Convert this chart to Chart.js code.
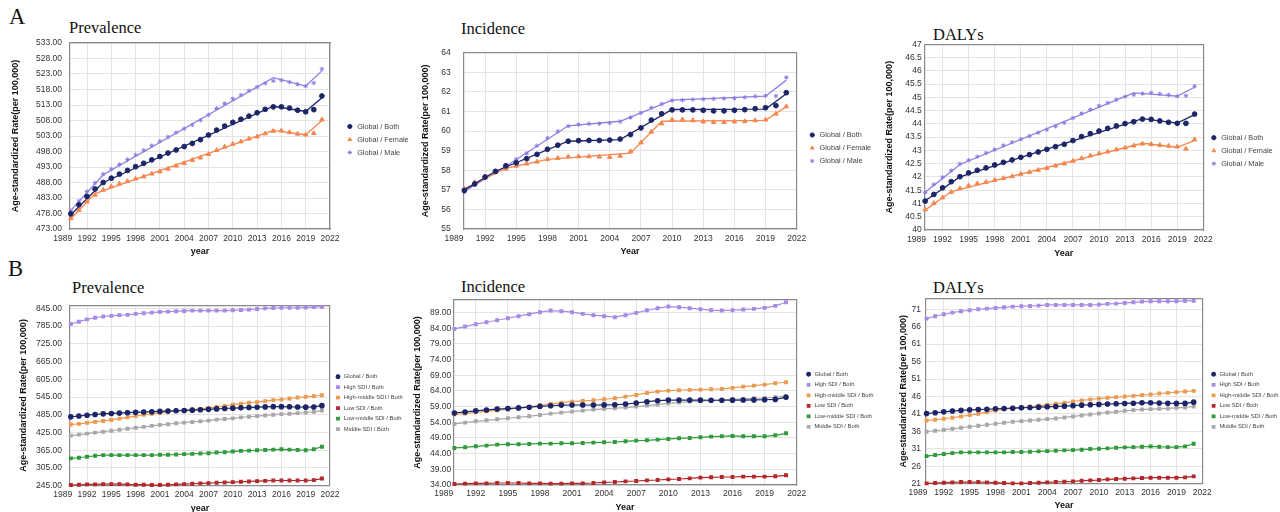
<!DOCTYPE html>
<html>
<head>
<meta charset="utf-8">
<script src="https://cdn.jsdelivr.net/npm/chart.js@4.4.1/dist/chart.umd.min.js"></script>
<style>
  body { margin: 0; background: #fff; }
  #fig { position: relative; width: 1280px; height: 512px; overflow: hidden; background: #fff; }
  #fig canvas { position: absolute; }
  .lbl { position: absolute; font-family: "Liberation Serif", "Times New Roman", serif; color: #111; line-height: 1; white-space: nowrap; }
  .letter { font-size: 22.6px; }
  .ttl { font-size: 16.5px; }
</style>
</head>
<body>
<div id="fig">
  <div class="lbl letter" style="left:9px;top:6px">A</div>
  <div class="lbl letter" style="left:8px;top:258px">B</div>
  <div class="lbl ttl" style="left:69px;top:19.5px">Prevalence</div>
  <div class="lbl ttl" style="left:461px;top:21px">Incidence</div>
  <div class="lbl ttl" style="left:933px;top:27px">DALYs</div>
  <div class="lbl ttl" style="left:72px;top:279.5px">Prevalence</div>
  <div class="lbl ttl" style="left:461px;top:279px">Incidence</div>
  <div class="lbl ttl" style="left:933px;top:279.5px">DALYs</div>
</div>
<script>
const years = [1990, 1991, 1992, 1993, 1994, 1995, 1996, 1997, 1998, 1999, 2000, 2001, 2002, 2003, 2004, 2005,
  2006, 2007, 2008, 2009, 2010, 2011, 2012, 2013, 2014, 2015, 2016, 2017, 2018, 2019, 2020, 2021];
const xTicks = [1989, 1992, 1995, 1998, 2001, 2004, 2007, 2010, 2013, 2016, 2019, 2022];

// A - global, by sex (observed points + joinpoint fit)
const prevBoth = [477.9, 480.8, 483.5, 485.9, 488.0, 489.4, 490.7, 491.9, 493.1, 494.2, 495.3, 496.4, 497.5, 498.5, 499.6, 500.6,
  501.8, 503.3, 504.9, 506.2, 507.4, 508.4, 509.4, 510.5, 511.6, 512.4, 512.4, 512.0, 511.3, 510.8, 511.5, 515.9];
const prevFemale = [476.4, 479.1, 481.8, 484.0, 485.6, 486.7, 487.6, 488.4, 489.2, 489.9, 490.8, 491.5, 492.4, 493.4, 494.2, 495.2,
  496.0, 497.1, 498.4, 499.5, 500.4, 501.2, 502.1, 502.8, 503.8, 504.6, 504.7, 504.2, 503.7, 503.4, 503.9, 508.3];
const prevMale = [478.9, 482.0, 485.1, 487.9, 490.7, 492.3, 493.8, 495.4, 496.9, 498.4, 499.9, 501.3, 502.7, 504.1, 505.4, 506.6,
  508.1, 509.8, 511.9, 513.5, 515.0, 516.2, 517.6, 518.8, 520.0, 520.8, 521.0, 520.4, 519.7, 519.1, 520.1, 524.6];
const prevBothFit = [[1990, 477.6], [1994, 488.0], [2015, 512.6], [2019, 510.9], [2021, 515.3]];
const prevFemaleFit = [[1990, 476.3], [1993, 484.4], [2015, 504.8], [2019, 503.4], [2021, 508.0]];
const prevMaleFit = [[1990, 479.0], [1994, 490.5], [2015, 521.8], [2019, 519.1], [2021, 524.0]];

const incBoth = [56.97, 57.30, 57.65, 57.94, 58.22, 58.38, 58.59, 58.81, 59.07, 59.28, 59.48, 59.51, 59.52, 59.52, 59.54, 59.59,
  59.82, 60.16, 60.56, 60.88, 61.08, 61.08, 61.08, 61.06, 61.03, 61.03, 61.06, 61.09, 61.14, 61.19, 61.30, 61.96];
const incFemale = [57.05, 57.38, 57.67, 57.89, 58.07, 58.22, 58.33, 58.43, 58.56, 58.62, 58.69, 58.70, 58.70, 58.69, 58.67, 58.73,
  58.96, 59.41, 59.96, 60.38, 60.58, 60.59, 60.54, 60.48, 60.45, 60.45, 60.48, 60.49, 60.54, 60.58, 60.88, 61.25];
const incMale = [56.89, 57.26, 57.70, 57.97, 58.26, 58.56, 58.86, 59.25, 59.64, 59.99, 60.25, 60.33, 60.37, 60.38, 60.41, 60.48,
  60.69, 60.93, 61.19, 61.38, 61.56, 61.58, 61.61, 61.63, 61.64, 61.66, 61.67, 61.72, 61.77, 61.80, 61.79, 62.74];
const incBothFit = [[1990, 57.0], [1993, 57.95], [2000, 59.48], [2005, 59.56], [2010, 61.1], [2019, 61.12], [2021, 61.9]];
const incFemaleFit = [[1990, 57.05], [1994, 58.1], [1998, 58.55], [2006, 58.87], [2009, 60.5], [2019, 60.55], [2021, 61.25]];
const incMaleFit = [[1990, 56.92], [1994, 58.2], [2000, 60.27], [2005, 60.5], [2010, 61.58], [2019, 61.78], [2021, 62.6]];

const dalyBoth = [41.09, 41.34, 41.59, 41.82, 42.01, 42.15, 42.25, 42.34, 42.45, 42.55, 42.64, 42.74, 42.84, 42.94, 43.04, 43.14,
  43.23, 43.37, 43.52, 43.63, 43.73, 43.83, 43.92, 44.01, 44.08, 44.18, 44.17, 44.11, 44.06, 44.02, 44.02, 44.37];
const dalyFemale = [40.77, 41.01, 41.22, 41.43, 41.57, 41.67, 41.75, 41.81, 41.88, 41.95, 42.02, 42.11, 42.18, 42.26, 42.33, 42.42,
  42.50, 42.60, 42.70, 42.80, 42.88, 42.95, 43.03, 43.10, 43.18, 43.25, 43.23, 43.20, 43.17, 43.14, 43.06, 43.41];
const dalyMale = [41.41, 41.72, 41.99, 42.24, 42.49, 42.63, 42.76, 42.90, 43.03, 43.19, 43.31, 43.42, 43.54, 43.67, 43.78, 43.91,
  44.04, 44.22, 44.39, 44.54, 44.68, 44.79, 44.91, 45.03, 45.10, 45.14, 45.17, 45.13, 45.09, 45.04, 45.06, 45.42];
const dalyBothFit = [[1990, 41.1], [1994, 42.0], [2015, 44.2], [2019, 44.03], [2021, 44.35]];
const dalyFemaleFit = [[1990, 40.75], [1993, 41.45], [2015, 43.27], [2019, 43.12], [2021, 43.38]];
const dalyMaleFit = [[1990, 41.42], [1994, 42.47], [2014, 45.17], [2019, 45.05], [2021, 45.38]];

// B - by SDI quintile (global series reused from A)
const prevHigh = [792.1, 799.9, 807.6, 813.1, 817.5, 819.7, 821.9, 823.0, 826.3, 828.5, 830.7, 832.9, 834.0, 835.1, 836.2, 837.3,
  837.3, 837.3, 837.3, 837.3, 838.4, 839.5, 840.6, 842.8, 845.0, 846.0, 847.0, 847.0, 847.0, 848.0, 849.0, 850.0];
const prevHighMid = [452.0, 454.2, 457.4, 460.8, 464.1, 467.4, 471.8, 476.2, 480.6, 485.0, 488.3, 491.6, 494.9, 498.2, 500.4, 502.6,
  504.8, 508.1, 511.4, 514.7, 519.1, 522.4, 525.7, 527.9, 531.2, 534.5, 536.7, 540.0, 543.3, 545.5, 547.7, 551.0];
const prevLow = [247.2, 248.3, 249.4, 249.4, 250.5, 250.5, 250.5, 249.4, 248.3, 248.3, 247.2, 247.2, 248.3, 249.4, 250.5, 251.6,
  252.7, 253.8, 254.9, 256.0, 257.1, 258.2, 259.3, 260.4, 261.5, 262.6, 262.6, 262.6, 262.6, 262.6, 263.7, 269.2];
const prevLowMid = [337.4, 339.6, 342.9, 346.2, 348.4, 348.4, 348.4, 348.4, 348.4, 348.4, 348.4, 349.5, 349.5, 350.6, 351.7, 352.8,
  353.9, 355.0, 357.2, 358.3, 360.5, 362.7, 363.8, 364.9, 366.0, 367.1, 368.2, 367.1, 366.0, 364.9, 368.2, 377.0];
const prevMid = [414.5, 417.8, 421.1, 424.4, 427.7, 431.0, 434.3, 437.6, 440.9, 444.2, 447.5, 450.8, 453.0, 456.3, 458.5, 460.7,
  462.9, 465.1, 468.4, 470.6, 472.8, 476.1, 478.3, 480.5, 482.7, 484.9, 487.1, 488.2, 490.4, 492.6, 494.8, 499.2];

const incHigh = [83.79, 84.53, 85.28, 85.91, 86.55, 87.19, 87.83, 88.47, 89.11, 89.64, 89.43, 89.11, 88.57, 88.15, 87.83, 87.51,
  88.15, 88.89, 89.74, 90.38, 90.91, 90.70, 90.38, 90.06, 89.74, 89.64, 89.74, 89.96, 90.17, 90.49, 91.13, 92.30];
const incHighMid = [56.55, 56.77, 57.19, 57.51, 57.83, 58.15, 58.47, 58.90, 59.43, 59.85, 60.28, 60.60, 60.81, 61.02, 61.34, 61.66,
  62.19, 62.72, 63.36, 63.79, 64.11, 64.21, 64.32, 64.43, 64.53, 64.64, 64.96, 65.38, 65.70, 66.02, 66.45, 66.77];
const incLow = [34.32, 34.43, 34.53, 34.53, 34.64, 34.64, 34.64, 34.53, 34.53, 34.43, 34.43, 34.53, 34.53, 34.64, 34.85, 34.96,
  35.17, 35.28, 35.49, 35.60, 35.81, 35.92, 36.13, 36.34, 36.45, 36.55, 36.55, 36.66, 36.66, 36.66, 36.77, 37.09];
const incLowMid = [45.81, 46.02, 46.34, 46.55, 46.87, 46.98, 46.98, 47.09, 47.19, 47.19, 47.30, 47.30, 47.40, 47.51, 47.62, 47.72,
  47.94, 48.15, 48.26, 48.47, 48.68, 48.89, 49.00, 49.21, 49.43, 49.53, 49.64, 49.53, 49.53, 49.53, 49.85, 50.49];
const incMid = [53.47, 53.89, 54.32, 54.64, 54.96, 55.28, 55.60, 55.91, 56.34, 56.77, 57.09, 57.40, 57.72, 58.04, 58.26, 58.47,
  58.68, 59.00, 59.32, 59.64, 60.06, 60.28, 60.60, 60.81, 60.91, 61.13, 61.34, 61.45, 61.66, 61.77, 61.98, 62.40];

const dalyHigh = [68.33, 69.00, 69.57, 70.05, 70.43, 70.71, 71.00, 71.19, 71.38, 71.57, 71.76, 71.86, 71.95, 72.05, 72.24, 72.24,
  72.24, 72.24, 72.24, 72.24, 72.34, 72.53, 72.62, 72.81, 73.00, 73.19, 73.29, 73.29, 73.29, 73.29, 73.39, 73.39];
const dalyHighMid = [39.13, 39.32, 39.61, 39.90, 40.28, 40.66, 41.04, 41.52, 42.00, 42.38, 42.76, 42.85, 43.04, 43.33, 43.61, 43.90,
  44.19, 44.57, 44.86, 45.14, 45.43, 45.62, 45.81, 46.00, 46.19, 46.38, 46.57, 46.86, 47.05, 47.24, 47.43, 47.62];
const dalyLow = [21.10, 21.19, 21.29, 21.38, 21.48, 21.48, 21.48, 21.38, 21.29, 21.19, 21.10, 21.10, 21.19, 21.29, 21.38, 21.48,
  21.57, 21.67, 21.86, 21.95, 22.05, 22.24, 22.33, 22.43, 22.53, 22.62, 22.72, 22.72, 22.72, 22.72, 22.81, 23.10];
const dalyLowMid = [28.92, 29.21, 29.50, 29.78, 29.97, 29.97, 29.97, 29.97, 29.97, 29.97, 30.07, 30.07, 30.16, 30.26, 30.35, 30.45,
  30.54, 30.64, 30.74, 30.93, 31.02, 31.12, 31.31, 31.40, 31.50, 31.59, 31.69, 31.59, 31.50, 31.50, 31.69, 32.45];
const dalyMid = [35.89, 36.17, 36.46, 36.74, 37.03, 37.32, 37.60, 37.89, 38.18, 38.46, 38.75, 38.94, 39.13, 39.32, 39.51, 39.70,
  39.99, 40.28, 40.56, 40.85, 41.13, 41.42, 41.61, 41.90, 42.09, 42.28, 42.38, 42.47, 42.57, 42.76, 42.85, 43.14];

// y tick values
const prevTicksA = [473, 478, 483, 488, 493, 498, 503, 508, 513, 518, 523, 528, 533];
const incTicksA = [55, 56, 57, 58, 59, 60, 61, 62, 63, 64];
const dalyTicksA = [40, 40.5, 41, 41.5, 42, 42.5, 43, 43.5, 44, 44.5, 45, 45.5, 46, 46.5, 47];
const prevTicksB = [245, 305, 365, 425, 485, 545, 605, 665, 725, 785, 845];
const incTicksB = [34, 39, 44, 49, 54, 59, 64, 69, 74, 79, 84, 89];
const dalyTicksB = [21, 26, 31, 36, 41, 46, 51, 56, 61, 66, 71];

const navy = '#1c2568';
const orange = '#f4874f';
const lavender = '#8a7ee2';
const sdiHigh = '#a68be4';
const sdiHighMid = '#eb9a4f';
const sdiLow = '#b3272b';
const sdiLowMid = '#2f9b3c';
const sdiMid = '#a8a8a8';

const sans = '"Liberation Sans", Arial, sans-serif';
const tickFont = { family: sans, size: 8.5 };
const axisTitleFont = { family: sans, size: 9, weight: 'bold' };
const frame = '#8a8a8a';
const gridColor = '#e4e4e4';
const X_MIN = 1989.9, X_MAX = 2022;
const yTitle = 'Age-standardized Rate(per 100,000)';

const fig = document.getElementById('fig');
const meas = document.createElement('canvas').getContext('2d');

function pts(arr) { return years.map((yr, i) => ({ x: yr, y: arr[i] })); }
function pairs(arr) { return arr.map(p => ({ x: p[0], y: p[1] })); }

function sexSeries(both, female, male, bothFit, femaleFit, maleFit) {
  const marks = [
    { label: 'Global / Both', data: pts(both), color: navy, style: 'circle', r: 2.4 },
    { label: 'Global / Female', data: pts(female), color: orange, style: 'triangle', r: 2.6 },
    { label: 'Global / Male', data: pts(male), color: lavender, style: 'star', r: 2.2 }
  ].map(s => ({
    label: s.label, data: s.data, showLine: false, clip: false,
    pointStyle: s.style, pointRadius: s.r, borderWidth: 1,
    backgroundColor: s.color, borderColor: s.color
  }));
  const fits = [[bothFit, navy], [femaleFit, orange], [maleFit, lavender]].map(f => ({
    label: '', fit: true, data: pairs(f[0]), borderColor: f[1], borderWidth: 1.3,
    pointRadius: 0, tension: 0, clip: false
  }));
  return marks.concat(fits);
}

function sdiSeries(globalBoth, high, highMid, low, lowMid, mid) {
  return [
    ['Global / Both', globalBoth, navy, 'circle', 2.2],
    ['High SDI / Both', high, sdiHigh, 'rect', 1.9],
    ['High-middle SDI / Both', highMid, sdiHighMid, 'rect', 1.9],
    ['Low SDI / Both', low, sdiLow, 'rect', 1.9],
    ['Low-middle SDI / Both', lowMid, sdiLowMid, 'rect', 1.9],
    ['Middle SDI / Both', mid, sdiMid, 'rect', 1.9]
  ].map(s => ({
    label: s[0], data: pts(s[1]), borderColor: s[2], backgroundColor: s[2],
    pointStyle: s[3], pointRadius: s[4], borderWidth: 1.2, tension: 0, clip: false
  }));
}

function drawPanel(p) {
  const lh = axisTitleFont.size * 1.2;
  const fs = p.legendSize, lp = p.legendPad;
  const labels = p.datasets.filter(d => !d.fit).map(d => d.label);

  // legend spans from legTop down to the canvas content bottom; it is centred in that band
  const legBottom = p.xTitleY + lh / 2;
  const legTop = 2 * (p.legendY - fs / 2) - lp - legBottom + labels.length * (fs + lp);
  const cLeft = Math.floor(p.yTitleX - lh / 2 - 4);
  const padL = p.yTitleX - lh / 2 - cLeft;
  const cTop = Math.floor(Math.min(legTop, p.area.t - 8));
  const padT = legTop - cTop;
  const topGap = p.area.t - legTop;
  const xAxisH = legBottom - p.area.b;
  const cH = Math.ceil(legBottom + 2) - cTop;
  const padB = cTop + cH - legBottom;
  const yAxisW = p.area.l - cLeft - padL;

  meas.font = fs + 'px ' + sans;
  const textW = Math.max(...labels.map(t => meas.measureText(t).width));
  const legendW = lp + fs * 1.5 + textW + 10;
  const cW = Math.ceil(p.area.r + p.gap + legendW + 2) - cLeft;
  const padR = cLeft + cW - (p.area.r + p.gap + legendW);

  const cv = document.createElement('canvas');
  cv.width = cW; cv.height = cH;
  cv.style.left = cLeft + 'px'; cv.style.top = cTop + 'px';
  fig.appendChild(cv);

  new Chart(cv, {
    type: 'line',
    data: { datasets: p.datasets },
    options: {
      responsive: false,
      animation: false,
      devicePixelRatio: 1,
      layout: { padding: { left: padL, right: padR, top: padT, bottom: padB } },
      plugins: {
        tooltip: { enabled: false },
        legend: {
          position: 'right', align: 'center', maxWidth: 400,
          labels: {
            usePointStyle: true, boxHeight: p.legendBox, padding: lp, color: '#444',
            font: { family: sans, size: fs },
            filter: (item, data) => !data.datasets[item.datasetIndex].fit
          }
        }
      },
      scales: {
        x: {
          type: 'linear', min: X_MIN, max: X_MAX,
          afterBuildTicks: s => { s.ticks = xTicks.map(v => ({ value: v })); },
          afterFit: s => { s.height = xAxisH; },
          ticks: { autoSkip: false, maxRotation: 0, minRotation: 0, padding: p.xPad, color: '#333', font: tickFont,
            callback: v => String(v) },
          grid: { drawTicks: false, color: c => (c.tick && c.tick.value < X_MIN) ? 'rgba(0,0,0,0)' : gridColor },
          border: { color: frame, width: 1.2 },
          title: { display: true, text: p.xTitle, font: axisTitleFont, color: '#111', padding: 0 }
        },
        y: {
          type: 'linear', min: p.yMin, max: p.yMax,
          afterBuildTicks: s => { s.ticks = p.yTicks.map(v => ({ value: v })); },
          afterFit: s => { s.width = yAxisW; },
          ticks: { padding: p.yPad, color: '#333', font: tickFont, callback: p.fmt },
          grid: { drawTicks: false, color: gridColor },
          border: { color: frame, width: 1.2 },
          title: { display: true, text: yTitle, font: axisTitleFont, color: '#111', padding: 0 }
        },
        xT: {
          type: 'linear', position: 'top',
          ticks: { display: false }, grid: { display: false, drawTicks: false },
          border: { color: frame, width: 1.2 },
          afterFit: s => { s.height = topGap; }
        },
        yR: {
          type: 'linear', position: 'right',
          ticks: { display: false }, grid: { display: false, drawTicks: false },
          border: { color: frame, width: 1.2 },
          afterFit: s => { s.width = p.gap; }
        }
      }
    }
  });
}

const fix2 = v => v.toFixed(2);
const plain = v => String(v);
const legA = { legendSize: 7.3, legendPad: 5.7, legendBox: 3 };
const legB = { legendSize: 5.8, legendPad: 4.7, legendBox: 2.6 };

drawPanel(Object.assign({
  area: { l: 70, t: 43, r: 330, b: 229 }, yTitleX: 16, xTitleY: 252, xTitle: 'year', yPad: 8, xPad: 4.7, gap: 10.5,
  legendY: 126.5, yMin: 473, yMax: 533, yTicks: prevTicksA, fmt: fix2,
  datasets: sexSeries(prevBoth, prevFemale, prevMale, prevBothFit, prevFemaleFit, prevMaleFit)
}, legA));
drawPanel(Object.assign({
  area: { l: 463.3, t: 43, r: 796.7, b: 229 }, yTitleX: 426, xTitleY: 252, xTitle: 'Year', yPad: 12.6, xPad: 4.7, gap: 6.2,
  legendY: 135, yMin: 55, yMax: 64, yTicks: incTicksA, fmt: plain,
  datasets: sexSeries(incBoth, incFemale, incMale, incBothFit, incFemaleFit, incMaleFit)
}, legA));
drawPanel(Object.assign({
  area: { l: 924.3, t: 44.3, r: 1203.3, b: 230 }, yTitleX: 890, xTitleY: 253.5, xTitle: 'Year', yPad: 2.5, xPad: 4.7, gap: 1.2,
  legendY: 137.7, yMin: 40, yMax: 47, yTicks: dalyTicksA, fmt: plain,
  datasets: sexSeries(dalyBoth, dalyFemale, dalyMale, dalyBothFit, dalyFemaleFit, dalyMaleFit)
}, legA));
drawPanel(Object.assign({
  area: { l: 70, t: 300.7, r: 330, b: 485.7 }, yTitleX: 23.3, xTitleY: 508.5, xTitle: 'year', yPad: 8, xPad: 3.9, gap: 0.4,
  legendY: 376.7, yMin: 245, yMax: 856, yTicks: prevTicksB, fmt: fix2,
  datasets: sdiSeries(prevBoth, prevHigh, prevHighMid, prevLow, prevLowMid, prevMid)
}, legB));
drawPanel(Object.assign({
  area: { l: 453.3, t: 300, r: 796.7, b: 485 }, yTitleX: 417.5, xTitleY: 507.5, xTitle: 'Year', yPad: 2, xPad: 3.9, gap: 4.3,
  legendY: 374.3, yMin: 34, yMax: 93, yTicks: incTicksB, fmt: fix2,
  datasets: sdiSeries(incBoth, incHigh, incHighMid, incLow, incLowMid, incMid)
}, legB));
drawPanel(Object.assign({
  area: { l: 925.7, t: 298.3, r: 1202.3, b: 483.7 }, yTitleX: 904, xTitleY: 506, xTitle: 'Year', yPad: 4.7, xPad: 3.9, gap: 3.7,
  legendY: 374.3, yMin: 21, yMax: 74, yTicks: dalyTicksB, fmt: plain,
  datasets: sdiSeries(dalyBoth, dalyHigh, dalyHighMid, dalyLow, dalyLowMid, dalyMid)
}, legB));
</script>
</body>
</html>
